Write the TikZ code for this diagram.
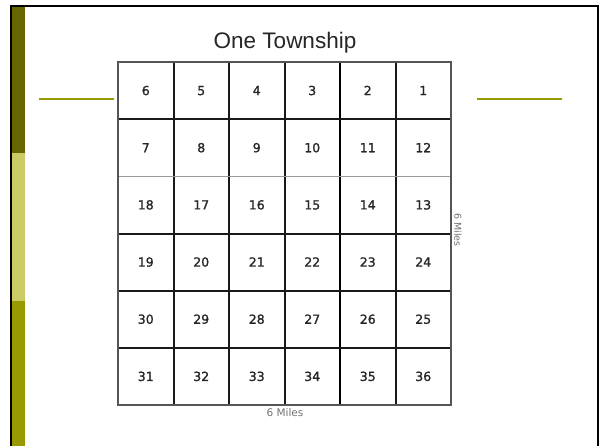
\documentclass[tikz,border=0pt]{standalone}
\usepackage{fontspec}
\setmainfont{DejaVu Sans}
\newfontfamily\titlefont{Liberation Sans}
\newfontfamily\numfont[FakeBold=1.2]{DejaVu Sans}
\definecolor{darkolive}{HTML}{666600}
\definecolor{lightolive}{HTML}{CCCC66}
\definecolor{olive}{HTML}{999900}
\definecolor{gridgray}{HTML}{555555}
\begin{document}
\begin{tikzpicture}[x=1pt,y=-1pt,
  thickline/.style={line width=2pt,draw=black!90},
  thinline/.style={line width=1.1pt,draw=black},
  grayline/.style={line width=1.1pt,draw=black!40},
  rule/.style={line width=2pt,draw=olive},
  cellnum/.style={font=\numfont\fontsize{12.5}{13}\selectfont,text=black!85,text height=9pt,text depth=0pt},
  miles/.style={font=\fontsize{10.5}{11}\selectfont,text=black!55,inner sep=0pt}]
\useasboundingbox (0,0) rectangle (600,446);
\fill[white] (0,0) rectangle (600,446);
% frame
\draw[line width=2pt,black] (11,446) -- (11,6) -- (598,6) -- (598,446);
\fill[darkolive] (12,7) rectangle (25,153);
\fill[lightolive] (12,153) rectangle (25,301);
\fill[olive] (12,301) rectangle (25,446);
% title
\node[font=\titlefont\fontsize{22.5}{25}\selectfont,text=black!85] (title) at (285,43) {One Township};
% rules
\coordinate (l1) at (39,98.7); \coordinate (l2) at (114,98.7);
\coordinate (r1) at (477,98.7); \coordinate (r2) at (562,98.7);
\draw[rule] (l1) -- (l2);
\draw[rule] (r1) -- (r2);
% grid
\def\gx{118}\def\gy{62}\def\cw{55.5}\def\ch{57.17}
\foreach \i in {1,2,3,5} {
  \draw[thickline] ({\gx+\i*\cw},\gy) -- ({\gx+\i*\cw},{\gy+6*\ch});
}
\draw[thinline] ({\gx+4*\cw},\gy) -- ({\gx+4*\cw},{\gy+6*\ch});
\foreach \j in {1,3,4,5} {
  \draw[thickline] (\gx,{\gy+\j*\ch}) -- ({\gx+6*\cw},{\gy+\j*\ch});
}
\draw[grayline] (\gx,{\gy+2*\ch}) -- ({\gx+6*\cw},{\gy+2*\ch});
\draw[line width=2pt,draw=gridgray] (\gx,\gy) rectangle ({\gx+6*\cw},{\gy+6*\ch});
% numbers
\foreach \r in {0,...,5} {
  \foreach \c in {0,...,5} {
    \pgfmathtruncatemacro{\n}{mod(\r,2)==0 ? 6*\r+6-\c : 6*\r+1+\c}
    \node[cellnum] (s\n) at ({\gx+(\c+0.5)*\cw},{\gy+(\r+0.5)*\ch}) {\n};
  }
}
% labels
\node[miles] (bottom) at (285,413) {6 Miles};
\node[miles,font=\fontsize{9.5}{10}\selectfont,rotate=-90] (side) at (458,230) {6 Miles};
\end{tikzpicture}
\end{document}
